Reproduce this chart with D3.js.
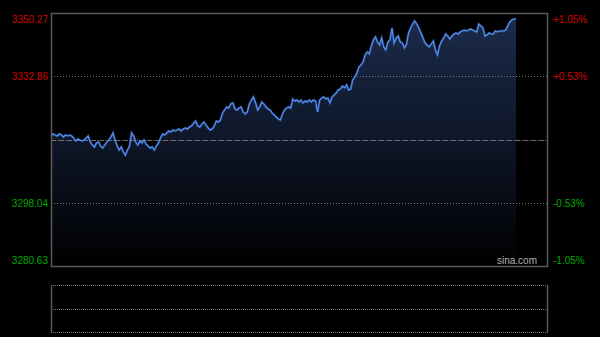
<!DOCTYPE html>
<html>
<head>
<meta charset="utf-8">
<script src="https://cdn.jsdelivr.net/npm/d3@7"></script>
<style>
  html, body { margin: 0; padding: 0; background: #000; }
  svg { display: block; }
</style>
</head>
<body>
<script>
// intraday index, one value per minute (241 slots in a session)
const prevClose = 3315.45;
const priceTicks = [3350.27, 3332.86, 3298.04, 3280.63];
const pctLabels = ["+1.05%", "+0.53%", "-0.53%", "-1.05%"];
const minutes = 241;

const prices = [
  3316.41, 3316.96, 3316.69, 3316.41, 3316.96, 3316.69, 3316.14, 3316.69, 3316.41, 3316.69,
  3316.41, 3315.86, 3315.04, 3315.59, 3315.31, 3315.04, 3315.31, 3315.86, 3316.41, 3314.76,
  3313.94, 3313.39, 3314.49, 3314.76, 3313.66, 3313.11, 3313.94, 3314.76, 3315.31, 3316.14,
  3317.24, 3315.31, 3313.66, 3312.56, 3313.39, 3312.01, 3311.18, 3312.56, 3313.66, 3317.24,
  3316.41, 3314.76, 3313.94, 3315.04, 3314.49, 3315.31, 3314.21, 3313.66, 3313.11, 3313.39,
  3312.56, 3313.66, 3314.49, 3315.86, 3316.96, 3316.69, 3317.24, 3317.79, 3317.51, 3318.07,
  3317.79, 3318.07, 3318.34, 3317.79, 3318.34, 3318.62, 3318.34, 3318.89, 3319.17, 3319.99,
  3320.54, 3319.17, 3318.89, 3319.72, 3320.27, 3319.44, 3318.62, 3318.07, 3318.34, 3319.17,
  3320.54, 3320.27, 3320.82, 3322.74, 3323.57, 3324.40, 3324.12, 3325.22, 3325.50, 3323.85,
  3323.57, 3324.12, 3324.40, 3323.02, 3322.47, 3323.02, 3325.22, 3326.32, 3327.15, 3325.50,
  3323.57, 3324.40, 3325.77, 3325.22, 3324.40, 3323.85, 3323.57, 3322.74, 3322.19, 3321.64,
  3321.09, 3320.82, 3322.47, 3323.57, 3324.12, 3324.40, 3324.12, 3326.60, 3326.05, 3326.32,
  3325.77, 3326.32, 3325.50, 3326.05, 3325.77, 3326.32, 3325.77, 3326.32, 3326.05, 3323.02,
  3326.32, 3326.87, 3327.15, 3326.60, 3326.87, 3325.50, 3327.15, 3327.70, 3328.25, 3329.08,
  3329.35, 3330.18, 3329.63, 3330.45, 3329.08, 3329.35, 3331.83, 3332.65, 3333.75, 3335.41,
  3335.96, 3336.78, 3338.71, 3339.54, 3338.98, 3341.19, 3342.84, 3343.66, 3342.29, 3341.46,
  3343.39, 3340.91, 3340.09, 3342.29, 3342.84, 3346.14, 3342.01, 3343.39, 3343.94, 3342.29,
  3342.01, 3340.64, 3341.74, 3344.77, 3346.14, 3347.24, 3348.07, 3347.24, 3346.14, 3344.77,
  3343.39, 3342.01, 3341.46, 3340.91, 3341.74, 3342.56, 3340.09, 3338.71, 3341.19, 3342.56,
  3343.39, 3344.49, 3343.94, 3343.11, 3343.94, 3344.49, 3344.77, 3344.49, 3345.04, 3345.32,
  3345.59, 3345.32, 3345.59, 3345.87, 3345.59, 3345.32, 3345.04, 3347.24, 3346.69, 3346.14,
  3343.94, 3344.21, 3344.77, 3344.49, 3344.49, 3345.32, 3345.04, 3345.32, 3345.32, 3345.32,
  3345.59, 3346.69, 3347.79, 3348.34, 3348.62, 3348.62
];

const W = 600, H = 337;
const plotL = 51, plotR = 547, plotT = 13, plotB = 266;
const volTop = 285, volBottom = 332;
const frameColor = "#5a5a5a";
const red = "#d40000", green = "#00a800";

const svg = d3.select("body").append("svg")
  .attr("width", W).attr("height", H)
  .style("background", "#000")
  .style("font-family", "'Liberation Sans', Arial, sans-serif");

const x = d3.scaleLinear().domain([0, minutes - 1]).range([plotL, plotR]);
const y = d3.scaleLinear().domain([priceTicks[3], priceTicks[0]]).range([plotB, plotT]);

// gradient under the price line
const grad = svg.append("defs").append("linearGradient")
  .attr("id", "fillGrad")
  .attr("gradientUnits", "userSpaceOnUse")
  .attr("x1", 0).attr("x2", 0).attr("y1", plotT).attr("y2", plotB);
grad.append("stop").attr("offset", 0).attr("stop-color", "#1c2c4c");
grad.append("stop").attr("offset", 0.5).attr("stop-color", "#0e1628");
grad.append("stop").attr("offset", 1).attr("stop-color", "#000");

const area = d3.area()
  .x((d, i) => x(i))
  .y0(plotB)
  .y1(d => y(d));

svg.append("path")
  .datum(prices)
  .attr("d", area)
  .attr("fill", "url(#fillGrad)");

// dotted grid lines
svg.append("g")
  .selectAll("line")
  .data([priceTicks[1], priceTicks[2]])
  .join("line")
  .attr("x1", plotL).attr("x2", plotR)
  .attr("y1", d => Math.round(y(d)) + 0.5)
  .attr("y2", d => Math.round(y(d)) + 0.5)
  .attr("stroke", "#777")
  .attr("stroke-dasharray", "1,2");

// previous close
svg.append("line")
  .attr("x1", plotL).attr("x2", plotR)
  .attr("y1", Math.round(y(prevClose)) + 0.5)
  .attr("y2", Math.round(y(prevClose)) + 0.5)
  .attr("stroke", "#707070")
  .attr("stroke-dasharray", "5,1,1,1");

// price line
const line = d3.line()
  .x((d, i) => x(i))
  .y(d => y(d));

svg.append("path")
  .datum(prices)
  .attr("d", line)
  .attr("fill", "none")
  .attr("stroke", "#2f5fb8")
  .attr("stroke-width", 2.4)
  .attr("stroke-opacity", 0.6);

svg.append("path")
  .datum(prices)
  .attr("d", line)
  .attr("fill", "none")
  .attr("stroke", "#5a93ee")
  .attr("stroke-width", 1.1);

// main frame
svg.append("rect")
  .attr("x", plotL + 0.5).attr("y", plotT + 0.5)
  .attr("width", plotR - plotL).attr("height", plotB - plotT)
  .attr("fill", "none")
  .attr("stroke", frameColor)
  .attr("stroke-width", 1.5);

// left price labels
const tickY = (d, i) => i === 0 ? y(d) + 10 : i === priceTicks.length - 1 ? y(d) - 2 : y(d) + 4;

svg.append("g")
  .selectAll("text")
  .data(priceTicks)
  .join("text")
  .attr("x", 48)
  .attr("y", tickY)
  .attr("text-anchor", "end")
  .attr("font-size", 10)
  .attr("fill", d => d > prevClose ? red : green)
  .text(d => d.toFixed(2));

// right percentage labels
svg.append("g")
  .selectAll("text")
  .data(pctLabels)
  .join("text")
  .attr("x", 553)
  .attr("y", (d, i) => tickY(priceTicks[i], i))
  .attr("font-size", 10)
  .attr("fill", (d, i) => priceTicks[i] > prevClose ? red : green)
  .text(d => d);

svg.append("text")
  .attr("x", 537).attr("y", 264)
  .attr("text-anchor", "end")
  .attr("font-size", 10)
  .attr("fill", "#b0b0b0")
  .text("sina.com");

// volume panel (empty)
svg.append("g")
  .selectAll("line")
  .data([volTop, (volTop + volBottom) / 2, volBottom])
  .join("line")
  .attr("x1", plotL).attr("x2", plotR)
  .attr("y1", d => Math.round(d) + 0.5)
  .attr("y2", d => Math.round(d) + 0.5)
  .attr("stroke", "#777")
  .attr("stroke-dasharray", "1,1");

svg.append("g")
  .selectAll("line")
  .data([plotL, plotR])
  .join("line")
  .attr("x1", d => d + 0.5).attr("x2", d => d + 0.5)
  .attr("y1", volTop).attr("y2", volBottom + 1)
  .attr("stroke", frameColor)
  .attr("stroke-width", 1.5);
</script>
</body>
</html>
